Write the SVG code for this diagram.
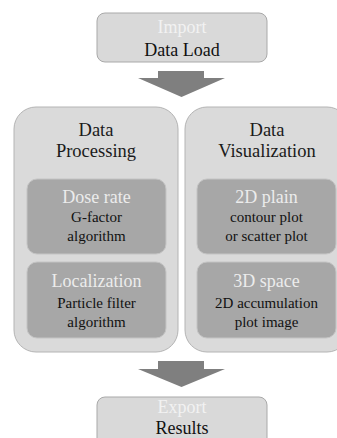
<svg xmlns="http://www.w3.org/2000/svg" width="337" height="438" viewBox="0 0 337 438">
<style>
.io{fill:#d9d9d9;stroke:#a9a9a9;stroke-width:1}
.panel{fill:#dadada;stroke:#b4b4b4;stroke-width:1}
.inner{fill:#a7a7a7;stroke:#c4c4c4;stroke-width:1}
.arrow{fill:#7f7f7f}
text{font-family:'Liberation Serif','DejaVu Serif',serif;text-anchor:middle}
.lbl{font-size:18px;fill:#f2f2f2}
.main{font-size:18px;fill:#111}
.ptitle{font-size:18.5px;fill:#1a1a1a}
.ititle{font-size:18px;fill:#ececec}
.sub{font-size:15px;fill:#111}
</style>
<rect width="337" height="438" fill="#ffffff"/>
<g id="connectors">
<path class="arrow" d="M158,71 H204 V78 H225 L181.5,97 L138,78 H158 Z"/>
<path class="arrow" d="M158,361 H204 V369 H225 L181.5,387 L138,369 H158 Z"/>
</g>
<g id="import">
<rect class="io" x="97" y="13" width="170" height="49" rx="8"/>
<text class="lbl" x="182" y="33">Import</text>
<text class="main" x="182" y="56">Data Load</text>
</g>
<g id="processing">
<rect class="panel" x="14" y="107" width="164" height="245" rx="22"/>
<text class="ptitle" x="96" y="136">Data</text>
<text class="ptitle" x="96" y="157">Processing</text>
</g>
<g id="dose-rate">
<rect class="inner" x="27" y="179" width="139" height="75" rx="10"/>
<text class="ititle" x="96.5" y="203">Dose rate</text>
<text class="sub" x="96.5" y="222">G-factor</text>
<text class="sub" x="96.5" y="241">algorithm</text>
</g>
<g id="localization">
<rect class="inner" x="27" y="262" width="139" height="76" rx="10"/>
<text class="ititle" x="96.5" y="287">Localization</text>
<text class="sub" x="96.5" y="308">Particle filter</text>
<text class="sub" x="96.5" y="327">algorithm</text>
</g>
<g id="visualization">
<rect class="panel" x="185" y="107" width="164" height="245" rx="22"/>
<text class="ptitle" x="267" y="136">Data</text>
<text class="ptitle" x="267" y="157">Visualization</text>
</g>
<g id="plain-2d">
<rect class="inner" x="197" y="179" width="139" height="75" rx="10"/>
<text class="ititle" x="266.5" y="203">2D plain</text>
<text class="sub" x="266.5" y="222">contour plot</text>
<text class="sub" x="266.5" y="241">or scatter plot</text>
</g>
<g id="space-3d">
<rect class="inner" x="197" y="262" width="139" height="76" rx="10"/>
<text class="ititle" x="266.5" y="287">3D space</text>
<text class="sub" x="266.5" y="308">2D accumulation</text>
<text class="sub" x="266.5" y="327">plot image</text>
</g>
<g id="export">
<rect class="io" x="97" y="397" width="170" height="49" rx="8"/>
<text class="lbl" x="182" y="413">Export</text>
<text class="main" x="182" y="434">Results</text>
</g>
</svg>
